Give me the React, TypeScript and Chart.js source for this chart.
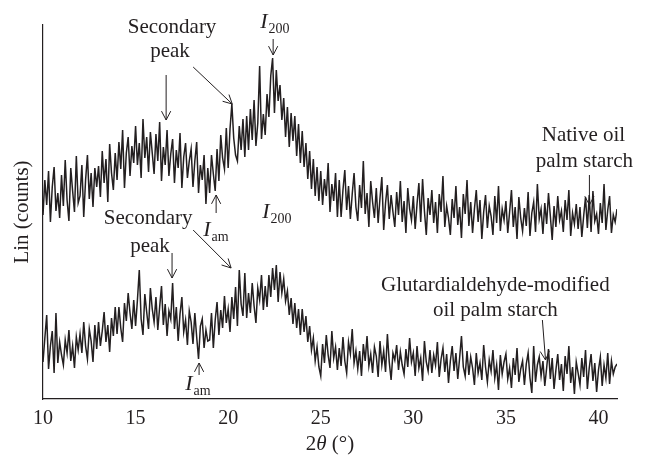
import React, { useEffect, useRef } from "react";
import { Chart, registerables } from "chart.js";

Chart.register(...registerables);

// ---- data ----
const TWO_THETA_START = 10;
const TWO_THETA_STEP = 0.1;
const X_MIN = 10;
const X_MAX = 41;
const Y_MIN = 0;
const Y_MAX = 374;
const X_TICKS = [10, 15, 20, 25, 30, 35, 40];

// Native oil palm starch (upper trace), 2θ = 10.0 … 41.0 step 0.1
const NATIVE = [
  184, 219, 194, 228, 177, 212, 232, 188, 206, 181,
  224, 193, 239, 199, 178, 231, 208, 187, 243, 196,
  203, 234, 182, 219, 244, 200, 226, 192, 231, 212,
  233, 202, 248, 216, 240, 197, 255, 226, 209, 246,
  219, 257, 230, 269, 211, 246, 262, 223, 253, 236,
  273, 234, 256, 221, 280, 241, 262, 227, 267, 246,
  225, 265, 238, 277, 218, 252, 234, 269, 223, 245,
  260, 216, 249, 231, 266, 211, 242, 256, 221, 238,
  250, 212, 238, 257, 206, 234, 219, 244, 195, 231,
  206, 244, 225, 208, 250, 218, 264, 241, 230, 271,
  231, 270, 295, 261, 244, 238, 273, 249, 280, 242,
  283, 249, 290, 259, 299, 253, 276, 333, 260, 285,
  264, 305, 282, 323, 341, 286, 329, 298, 314, 279,
  301, 262, 292, 252, 286, 258, 283, 243, 275, 236,
  268, 232, 256, 220, 248, 210, 240, 203, 232, 198,
  228, 194, 220, 203, 236, 187, 215, 198, 226, 182,
  219, 182, 209, 229, 189, 213, 180, 205, 226, 192,
  178, 214, 191, 238, 185, 206, 172, 218, 197, 181,
  211, 176, 201, 222, 169, 196, 214, 180, 204, 187,
  172, 207, 184, 218, 177, 198, 166, 211, 190, 179,
  203, 170, 195, 216, 177, 220, 188, 164, 201, 184,
  209, 176, 197, 166, 205, 187, 223, 172, 193, 181,
  164, 200, 181, 213, 174, 192, 161, 205, 185, 219,
  173, 197, 166, 190, 209, 177, 199, 160, 187, 204,
  171, 193, 183, 164, 203, 176, 213, 168, 190, 179,
  198, 166, 187, 209, 172, 192, 160, 202, 181, 168,
  191, 173, 207, 163, 186, 197, 167, 215, 180, 190,
  165, 196, 175, 206, 183, 159, 193, 172, 203, 179,
  188, 167, 199, 179, 209, 163, 186, 175, 195, 170,
  192, 162, 183, 202, 171, 204, 167, 208, 178, 185,
  165, 196, 176, 215, 169, 189, 203, 166, 184, 177,
  190,
];

// Glutardialdehyde-modified oil palm starch (lower trace)
const MODIFIED = [
  37, 61, 84, 30, 53, 68, 26, 86, 36, 57,
  44, 34, 59, 46, 69, 38, 53, 31, 62, 49,
  65, 46, 77, 53, 40, 70, 58, 37, 74, 50,
  77, 53, 68, 87, 57, 74, 47, 81, 63, 92,
  65, 92, 71, 57, 96, 78, 106, 86, 70, 99,
  73, 99, 129, 80, 64, 105, 87, 70, 111, 90,
  77, 102, 69, 92, 113, 74, 95, 63, 88, 80,
  116, 70, 92, 58, 85, 102, 67, 79, 54, 88,
  77, 55, 86, 62, 40, 73, 80, 51, 69, 58,
  59, 86, 51, 79, 97, 64, 89, 71, 103, 76,
  90, 67, 102, 80, 112, 73, 129, 95, 83, 126,
  81, 106, 86, 116, 93, 76, 111, 99, 124, 89,
  113, 92, 124, 102, 131, 109, 134, 97, 127, 106,
  120, 98, 108, 84, 101, 75, 96, 71, 90, 64,
  90, 67, 83, 57, 73, 49, 61, 38, 52, 32,
  23, 55, 36, 64, 44, 31, 68, 41, 52, 29,
  51, 33, 62, 38, 26, 57, 45, 70, 36, 48,
  30, 48, 23, 55, 38, 63, 33, 45, 26, 52,
  43, 22, 58, 34, 48, 27, 65, 37, 19, 46,
  39, 54, 29, 47, 34, 25, 50, 32, 61, 37,
  46, 23, 53, 31, 41, 18, 58, 37, 28, 49,
  26, 44, 34, 57, 22, 40, 51, 27, 45, 16,
  38, 53, 28, 46, 20, 41, 63, 32, 23, 48,
  24, 42, 31, 14, 46, 26, 36, 19, 54, 32,
  17, 39, 28, 49, 21, 34, 9, 44, 25, 37,
  45, 20, 31, 11, 41, 24, 51, 17, 30, 38,
  14, 35, 46, 21, 6, 53, 17, 34, 42, 23,
  38, 13, 31, 50, 20, 41, 10, 29, 45, 19,
  35, 8, 43, 25, 53, 16, 32, 5, 37, 26,
  14, 41, 22, 49, 10, 31, 45, 18, 36, 7,
  29, 42, 13, 34, 21, 46, 15, 38, 25, 32,
  35,
];

// annotation texts (data coordinates: 2θ, counts)
const TEXT_LABELS = ["Secondary", "peak", "Native oil", "palm starch", "Secondary", "peak", "Glutardialdehyde-modified", "oil palm starch"];
const TEXT_X = [16.97, 16.86, 39.19, 39.24, 15.68, 15.78, 34.43, 34.43];
const TEXT_Y = [372, 348, 264, 238, 181, 153, 114, 89];

const SUB_LABELS = ["200", "am", "200", "am"];
const SUB_X = [21.73, 18.65, 21.84, 17.68];
const SUB_Y = [371, 163, 181, 9];

// arrows: from (x1,y1) to (x2,y2), head at the end
const ARROW_X1 = [16.65, 18.11, 22.43, 19.35, 39.51, 16.97, 18.11, 18.43, 36.97];
const ARROW_Y1 = [324, 332, 360, 186, 224, 146, 169, 24, 79];
const ARROW_X2 = [16.65, 20.22, 22.43, 19.35, 39.51, 16.97, 20.16, 18.43, 37.14];
const ARROW_Y2 = [279, 295, 344, 204, 194, 121, 131, 36, 39];

const INK = "#231f20";
const SERIF = "'Liberation Serif', 'Times New Roman', serif";

const toPoints = (vals: number[]) =>
  vals.map((v, i) => ({ x: +(TWO_THETA_START + i * TWO_THETA_STEP).toFixed(2), y: v }));

const annotationPlugin = {
  id: "xrdAnnotations",
  afterDatasetsDraw(chart: any) {
    const { ctx, chartArea } = chart;
    const xs = chart.scales.x;
    const ys = chart.scales.y;
    ctx.save();
    ctx.fillStyle = INK;
    ctx.strokeStyle = INK;

    ctx.font = `21px ${SERIF}`;
    ctx.textAlign = "center";
    ctx.textBaseline = "middle";
    TEXT_LABELS.forEach((t, i) => {
      ctx.fillText(t, xs.getPixelForValue(TEXT_X[i]), ys.getPixelForValue(TEXT_Y[i]));
    });

    ctx.textAlign = "left";
    ctx.textBaseline = "alphabetic";
    SUB_LABELS.forEach((s, i) => {
      const px = xs.getPixelForValue(SUB_X[i]);
      const py = ys.getPixelForValue(SUB_Y[i]);
      ctx.font = `italic 22px ${SERIF}`;
      ctx.fillText("I", px, py);
      const w = ctx.measureText("I").width;
      ctx.font = `14px ${SERIF}`;
      ctx.fillText(s, px + w + 1, py + 5);
    });

    ctx.lineWidth = 1;
    ARROW_X1.forEach((_, i) => {
      const x1 = xs.getPixelForValue(ARROW_X1[i]);
      const y1 = ys.getPixelForValue(ARROW_Y1[i]);
      const x2 = xs.getPixelForValue(ARROW_X2[i]);
      const y2 = ys.getPixelForValue(ARROW_Y2[i]);
      ctx.beginPath();
      ctx.moveTo(x1, y1);
      ctx.lineTo(x2, y2);
      ctx.stroke();
      const ang = Math.atan2(y2 - y1, x2 - x1);
      const h = 10;
      const sp = 0.48;
      ctx.beginPath();
      ctx.moveTo(x2 - h * Math.cos(ang - sp), y2 - h * Math.sin(ang - sp));
      ctx.lineTo(x2, y2);
      ctx.lineTo(x2 - h * Math.cos(ang + sp), y2 - h * Math.sin(ang + sp));
      ctx.stroke();
    });

    // x-axis title: 2θ (°)
    const parts: [string, string][] = [
      ["2", `21px ${SERIF}`],
      ["θ", `italic 21px ${SERIF}`],
      [" (°)", `21px ${SERIF}`],
    ];
    let total = 0;
    const widths = parts.map(([t, f]) => {
      ctx.font = f;
      const w = ctx.measureText(t).width;
      total += w;
      return w;
    });
    let cx = (chartArea.left + chartArea.right) / 2 - total / 2;
    const ty = chartArea.bottom + 45;
    ctx.textBaseline = "middle";
    parts.forEach(([t, f], i) => {
      ctx.font = f;
      ctx.fillText(t, cx, ty);
      cx += widths[i];
    });
    ctx.restore();
  },
};

export default function App() {
  const ref = useRef<HTMLCanvasElement>(null);
  useEffect(() => {
    document.body.style.margin = "0";
    const chart = new Chart(ref.current as HTMLCanvasElement, {
      type: "line",
      data: {
        datasets: [
          {
            label: "Native oil palm starch",
            data: toPoints(NATIVE),
            borderColor: INK,
            borderWidth: 1.5,
            pointRadius: 0,
            tension: 0,
            fill: false,
          },
          {
            label: "Glutardialdehyde-modified oil palm starch",
            data: toPoints(MODIFIED),
            borderColor: INK,
            borderWidth: 1.5,
            pointRadius: 0,
            tension: 0,
            fill: false,
          },
        ],
      },
      options: {
        animation: false,
        responsive: true,
        maintainAspectRatio: false,
        layout: { padding: { top: 25, right: 29, left: 0, bottom: 0 } },
        plugins: {
          legend: { display: false },
          tooltip: { enabled: false },
        },
        scales: {
          x: {
            type: "linear",
            min: X_MIN,
            max: X_MAX,
            grid: { display: false, drawTicks: false },
            border: { display: true, color: INK, width: 1.2 },
            afterBuildTicks: (s: any) => {
              s.ticks = X_TICKS.map((v) => ({ value: v }));
            },
            afterFit: (s: any) => {
              s.height = 58;
            },
            ticks: {
              color: INK,
              padding: 8,
              font: { family: SERIF, size: 20 },
              callback: (v: any) => String(v),
            },
          },
          y: {
            type: "linear",
            min: Y_MIN,
            max: Y_MAX,
            grid: { display: false, drawTicks: false },
            border: { display: true, color: INK, width: 1.2 },
            ticks: { display: false },
            afterFit: (s: any) => {
              s.width = 43;
            },
            title: {
              display: true,
              text: "Lin (counts)",
              color: INK,
              font: { family: SERIF, size: 21 },
              padding: { top: 10, bottom: 0 },
            },
          },
        },
      },
      plugins: [annotationPlugin],
    });
    return () => chart.destroy();
  }, []);
  return (
    <div style={{ width: 646, height: 457, position: "relative", background: "#fff" }}>
      <canvas ref={ref} />
    </div>
  );
}
